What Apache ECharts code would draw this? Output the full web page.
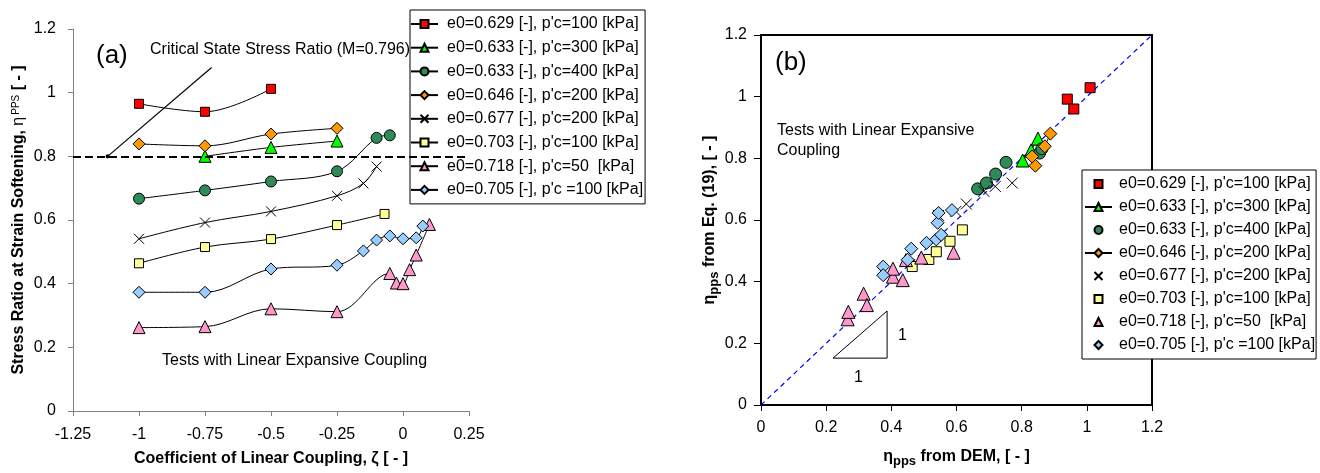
<!DOCTYPE html>
<html><head><meta charset="utf-8">
<script src="https://cdn.jsdelivr.net/npm/echarts@6/dist/echarts.min.js"></script>
<style>html,body{margin:0;padding:0;background:#fff}#c{width:1320px;height:473px}</style>
</head><body><div id="c"></div>
<script>
// ---------- data ----------
const seriesNames = [
  "e0=0.629 [-], p'c=100 [kPa]",
  "e0=0.633 [-], p'c=300 [kPa]",
  "e0=0.633 [-], p'c=400 [kPa]",
  "e0=0.646 [-], p'c=200 [kPa]",
  "e0=0.677 [-], p'c=200 [kPa]",
  "e0=0.703 [-], p'c=100 [kPa]",
  "e0=0.718 [-], p'c=50  [kPa]",
  "e0=0.705 [-], p'c =100 [kPa]"
];
// (a) coefficient of linear coupling zeta vs eta_pps
const zeta1 = [-1, -0.75, -0.5];
const eta1  = [0.965, 0.940, 1.012];
const zeta2 = [-0.75, -0.5, -0.25];
const eta2  = [0.800, 0.828, 0.848];
const zeta3 = [-1, -0.75, -0.5, -0.25, -0.1, -0.05];
const eta3  = [0.667, 0.693, 0.721, 0.753, 0.858, 0.866];
const zeta4 = [-1, -0.75, -0.5, -0.25];
const eta4  = [0.839, 0.833, 0.870, 0.888];
const zeta5 = [-1, -0.75, -0.5, -0.25, -0.15, -0.1];
const eta5  = [0.541, 0.592, 0.627, 0.676, 0.715, 0.768];
const zeta6 = [-1, -0.75, -0.5, -0.25, -0.07];
const eta6  = [0.464, 0.515, 0.540, 0.584, 0.619];
const zeta7 = [-1, -0.75, -0.5, -0.25, -0.05, -0.025, 0, 0.025, 0.05, 0.1];
const eta7  = [0.262, 0.265, 0.321, 0.312, 0.432, 0.402, 0.400, 0.444, 0.490, 0.586];
const zeta8 = [-1, -0.75, -0.5, -0.25, -0.15, -0.1, -0.05, 0, 0.05, 0.075];
const eta8  = [0.373, 0.373, 0.446, 0.458, 0.503, 0.537, 0.550, 0.541, 0.544, 0.581];
const criticalM = 0.8;
const arrowFrom = [-0.725, 1.079];
const arrowTo = [-1.119, 0.8];

// (b) eta_pps from DEM vs eta_pps from Eq. (19)
const dem1 = [0.94, 0.96, 1.01];
const eq1  = [0.992, 0.960, 1.029];
const dem2 = [0.803, 0.829, 0.850];
const eq2  = [0.793, 0.826, 0.864];
const dem3 = [0.665, 0.692, 0.720, 0.752, 0.855, 0.862];
const eq3  = [0.701, 0.720, 0.749, 0.787, 0.817, 0.831];
const dem4 = [0.842, 0.832, 0.871, 0.888];
const eq4  = [0.776, 0.806, 0.839, 0.880];
const dem5 = [0.545, 0.598, 0.630, 0.684, 0.719, 0.771];
const eq5  = [0.615, 0.628, 0.652, 0.693, 0.709, 0.720];
const dem6 = [0.464, 0.515, 0.538, 0.580, 0.618];
const eq6  = [0.449, 0.472, 0.497, 0.531, 0.568];
const dem7 = [0.266, 0.268, 0.315, 0.325, 0.405, 0.405, 0.435, 0.445, 0.492, 0.591];
const eq7  = [0.278, 0.302, 0.361, 0.324, 0.416, 0.442, 0.405, 0.470, 0.478, 0.494];
const dem8 = [0.375, 0.375, 0.450, 0.461, 0.508, 0.538, 0.553, 0.542, 0.545, 0.586];
const eq8  = [0.449, 0.421, 0.471, 0.507, 0.526, 0.537, 0.552, 0.591, 0.623, 0.632];
const oneToOne = [[0, 0], [1.2, 1.2]];
const slopeTriangle = [[0.221, 0.152], [0.387, 0.152], [0.387, 0.305], [0.221, 0.152]];

// ---------- styling ----------
const FONT = '"Liberation Sans", Arial, sans-serif';
const crossPath = 'path://M0,0L10,10M10,0L0,10';
const markers = [
  {symbol: 'rect', size: 9, color: '#FF0000'},
  {symbol: 'triangle', size: 12, color: '#00FF00'},
  {symbol: 'circle', size: 11, color: '#2E8B57'},
  {symbol: 'diamond', size: 12, color: '#FF9900'},
  {symbol: crossPath, size: 10, color: 'transparent'},
  {symbol: 'rect', size: 9, color: '#FFFF99'},
  {symbol: 'triangle', size: 12, color: '#FF99CC'},
  {symbol: 'diamond', size: 12, color: '#99CCFF'}
];
const leftX = [zeta1, zeta2, zeta3, zeta4, zeta5, zeta6, zeta7, zeta8];
const leftY = [eta1, eta2, eta3, eta4, eta5, eta6, eta7, eta8];
const rightX = [dem1, dem2, dem3, dem4, dem5, dem6, dem7, dem8];
const rightY = [eq1, eq2, eq3, eq4, eq5, eq6, eq7, eq8];
const rightLined = [false, true, false, true, false, false, false, false];
const zip = (a, b) => a.map((v, i) => [v, b[i]]);

const series = [];
// helper series for annotations on (a)
series.push({
  type: 'line', xAxisIndex: 0, yAxisIndex: 0, data: [], silent: true, z: 1,
  markLine: {
    silent: true, animation: false, label: {show: false},
    data: [
      [{coord: [-1.25, criticalM], symbol: 'none'}, {coord: [0.25, criticalM], symbol: 'none', lineStyle: {color: '#000', width: 2, type: [8, 4]}}],
      [{coord: arrowFrom, symbol: 'none'}, {coord: arrowTo, symbol: 'circle', symbolSize: 4, lineStyle: {color: '#000', width: 1.2, type: 'solid'}}]
    ]
  }
});
markers.forEach((m, i) => {
  series.push({
    name: seriesNames[i], type: 'line', xAxisIndex: 0, yAxisIndex: 0,
    data: zip(leftX[i], leftY[i]), smooth: 0.35, z: 3,
    symbol: m.symbol, symbolSize: m.size, showSymbol: true,
    lineStyle: {color: '#000', width: 1},
    itemStyle: {color: m.color, borderColor: '#000', borderWidth: 1},
    emphasis: {disabled: true}, animation: false
  });
});
// (b) 1:1 line and slope triangle
series.push({
  type: 'line', xAxisIndex: 1, yAxisIndex: 1, data: oneToOne, symbol: 'none', z: 2,
  lineStyle: {color: '#0000FF', width: 1.2, type: [5, 4]}, silent: true, animation: false
});
series.push({
  type: 'line', xAxisIndex: 1, yAxisIndex: 1, data: slopeTriangle, symbol: 'none', z: 2,
  lineStyle: {color: '#000', width: 1}, silent: true, animation: false
});
markers.forEach((m, i) => {
  series.push({
    name: 'b:' + seriesNames[i], type: 'line', xAxisIndex: 1, yAxisIndex: 1,
    data: zip(rightX[i], rightY[i]), z: 3,
    symbol: m.symbol, symbolSize: m.size + 1, showSymbol: true,
    lineStyle: rightLined[i] ? {color: '#000', width: 1} : {color: '#000', width: 1, opacity: 0},
    itemStyle: {color: m.color, borderColor: '#000', borderWidth: 1},
    emphasis: {disabled: true}, animation: false
  });
});

const tickLabel = {color: '#000', fontSize: 16, fontFamily: FONT};
const legendBase = {
  orient: 'vertical', selectedMode: false, backgroundColor: '#fff',
  borderColor: '#000', borderWidth: 1, itemWidth: 27, itemHeight: 10, itemGap: 7.5,
  textStyle: {fontSize: 16, fontFamily: FONT, color: '#000', lineHeight: 16, padding: [0, 0, 0, 4]}
};

const option = {
  animation: false,
  backgroundColor: '#fff',
  textStyle: {fontFamily: FONT},
  grid: [
    {left: 73, top: 29, width: 396, height: 382},
    {left: 761, top: 35, width: 391, height: 371}
  ],
  xAxis: [
    {
      type: 'value', gridIndex: 0, min: -1.25, max: 0.25, interval: 0.25,
      splitLine: {show: false},
      axisLine: {show: true, onZero: false, lineStyle: {color: '#808080', width: 1}},
      axisTick: {show: true, length: 5, lineStyle: {color: '#808080'}},
      axisLabel: Object.assign({margin: 16}, tickLabel),
      name: 'Coefficient of Linear Coupling, ζ [ - ]', nameLocation: 'middle', nameGap: 40,
      nameTextStyle: {fontSize: 16, fontWeight: 'bold', color: '#000', fontFamily: FONT}
    },
    {
      type: 'value', gridIndex: 1, min: 0, max: 1.2, interval: 0.2,
      splitLine: {show: false},
      axisLine: {show: true, onZero: false, lineStyle: {color: '#000', width: 2}},
      axisTick: {show: true, length: 6, lineStyle: {color: '#000'}},
      axisLabel: Object.assign({margin: 15}, tickLabel),
      name: '{b|η}{s|pps}{b| from DEM, [ - ]}', nameLocation: 'middle', nameGap: 44,
      nameTextStyle: {rich: {
        b: {fontSize: 16, fontWeight: 'bold', color: '#000', fontFamily: FONT, verticalAlign: 'bottom'},
        s: {fontSize: 13, fontWeight: 'bold', color: '#000', fontFamily: FONT, verticalAlign: 'bottom', padding: [0, 0, -3, 0]}
      }}
    },
    {
      type: 'value', gridIndex: 1, position: 'top', min: 0, max: 1.2, interval: 0.2,
      splitLine: {show: false}, axisTick: {show: false}, axisLabel: {show: false},
      axisLine: {show: true, onZero: false, lineStyle: {color: '#000', width: 2}}
    }
  ],
  yAxis: [
    {
      type: 'value', gridIndex: 0, min: 0, max: 1.2, interval: 0.2,
      splitLine: {show: false},
      axisLine: {show: true, onZero: false, lineStyle: {color: '#808080', width: 1}},
      axisTick: {show: true, length: 5, lineStyle: {color: '#808080'}},
      axisLabel: Object.assign({margin: 17}, tickLabel),
      name: '{b|Stress Ratio at Strain Softening, }{e|η}{p|PPS}{b| [ - ]}', nameLocation: 'middle', nameGap: 46,
      nameTextStyle: {rich: {
        b: {fontSize: 16, fontWeight: 'bold', color: '#000', fontFamily: FONT, verticalAlign: 'bottom'},
        e: {fontSize: 16, color: '#000', fontFamily: FONT, verticalAlign: 'bottom'},
        p: {fontSize: 10, color: '#000', fontFamily: FONT, verticalAlign: 'top', padding: [0, 0, 0, 2]}
      }}
    },
    {
      type: 'value', gridIndex: 1, min: 0, max: 1.2, interval: 0.2,
      splitLine: {show: false},
      axisLine: {show: true, onZero: false, lineStyle: {color: '#000', width: 2}},
      axisTick: {show: true, length: 7, lineStyle: {color: '#000'}},
      axisLabel: Object.assign({margin: 14}, tickLabel),
      name: '{b|η}{s|pps}{b| from Eq. (19), [ - ]}', nameLocation: 'middle', nameGap: 28,
      nameTextStyle: {rich: {
        b: {fontSize: 16, fontWeight: 'bold', color: '#000', fontFamily: FONT, verticalAlign: 'bottom'},
        s: {fontSize: 13, fontWeight: 'bold', color: '#000', fontFamily: FONT, verticalAlign: 'bottom', padding: [0, 0, -3, 0]}
      }}
    },
    {
      type: 'value', gridIndex: 1, position: 'right', min: 0, max: 1.2, interval: 0.2,
      splitLine: {show: false}, axisTick: {show: false}, axisLabel: {show: false},
      axisLine: {show: true, onZero: false, lineStyle: {color: '#000', width: 2}}
    }
  ],
  legend: [
    Object.assign({}, legendBase, {left: 410, top: 10, padding: [6, 2, 6, 0], itemGap: 7.7, data: seriesNames.slice()}),
    Object.assign({}, legendBase, {left: 1082, top: 170, itemGap: 7, padding: [6, 1, 6, 2],
      textStyle: Object.assign({}, legendBase.textStyle, {padding: [0, 0, 0, 2]}),
      data: seriesNames.map(n => 'b:' + n), formatter: n => n.replace(/^b:/, '')})
  ],
  graphic: [
    {type: 'text', left: 96, top: 43, style: {text: '(a)', font: '26px ' + FONT, fill: '#000'}},
    {type: 'text', left: 150, top: 42, style: {text: 'Critical State Stress Ratio (M=0.796)', font: '16px ' + FONT, fill: '#000'}},
    {type: 'text', left: 162, top: 353, style: {text: 'Tests with Linear Expansive Coupling', font: '16px ' + FONT, fill: '#000'}},
    {type: 'text', left: 775, top: 50, style: {text: '(b)', font: '26px ' + FONT, fill: '#000'}},
    {type: 'text', left: 777, top: 121, style: {text: 'Tests with Linear Expansive\nCoupling', font: '16px ' + FONT, fill: '#000', lineHeight: 19.5}},
    {type: 'text', left: 898, top: 328, style: {text: '1', font: '16px ' + FONT, fill: '#000'}},
    {type: 'text', left: 854, top: 370, style: {text: '1', font: '16px ' + FONT, fill: '#000'}}
  ],
  series: series
};
const chart = echarts.init(document.getElementById('c'), null, {renderer: 'canvas'});
chart.setOption(option);
</script>
</body></html>
